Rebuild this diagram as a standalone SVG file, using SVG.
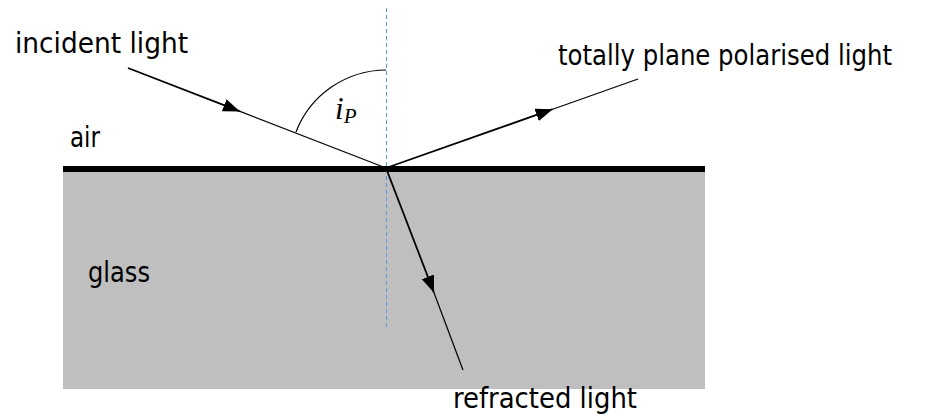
<svg xmlns="http://www.w3.org/2000/svg" width="948" height="418" viewBox="0 0 948 418">
<style>
.lbl{font-family:"DejaVu Sans Condensed","DejaVu Sans",sans-serif;font-stretch:condensed;font-size:27.5px;fill:#000}
.ray{stroke:#000;stroke-width:1.2;fill:none}
.rayb{stroke:#000;stroke-width:1.8;fill:none}
</style>
<defs>
<marker id="ah" markerUnits="userSpaceOnUse" markerWidth="18" markerHeight="14" refX="17" refY="6.5" orient="auto">
<path d="M0,0 L17,6.5 L0,13 z" fill="#000"/>
</marker>
</defs>
<rect id="glass" x="63" y="169" width="642" height="220" fill="#BFBFBF"/>
<line id="surface" x1="63" y1="169" x2="705" y2="169" stroke="#000" stroke-width="6"/>
<line id="normal" x1="386.5" y1="8" x2="386.5" y2="328" stroke="#5B9BD5" stroke-width="1" stroke-dasharray="4,3"/>
<g id="connectors">
<line class="ray" x1="240" y1="111.4" x2="386" y2="168"/>
<line class="rayb" x1="128" y1="68" x2="240" y2="111.4" marker-end="url(#ah)"/>
<line class="ray" x1="552.7" y1="109.2" x2="638" y2="79"/>
<line class="rayb" x1="386" y1="168" x2="552.7" y2="109.2" marker-end="url(#ah)"/>
<line class="ray" x1="434" y1="292.7" x2="463" y2="370"/>
<line class="rayb" x1="386" y1="168" x2="434" y2="292.7" marker-end="url(#ah)"/>
<path class="ray" d="M296,132 A97,97 0 0 1 386,70"/>
</g>
<g id="incident"><text class="lbl" x="15" y="53" textLength="173" lengthAdjust="spacingAndGlyphs">incident light</text></g>
<g id="reflected"><text class="lbl" x="558" y="65" textLength="334" lengthAdjust="spacingAndGlyphs">totally plane polarised light</text></g>
<g id="air"><text class="lbl" x="70" y="147" textLength="30" lengthAdjust="spacingAndGlyphs">air</text></g>
<g id="glasslbl"><text class="lbl" x="88" y="282" textLength="62" lengthAdjust="spacingAndGlyphs">glass</text></g>
<g id="refracted"><text class="lbl" x="453" y="408" textLength="184" lengthAdjust="spacingAndGlyphs">refracted light</text></g>
<g id="angle"><text x="335" y="119" font-family="Liberation Serif,serif" font-style="italic" font-size="31">i<tspan font-size="21" dy="4">P</tspan></text></g>
</svg>
